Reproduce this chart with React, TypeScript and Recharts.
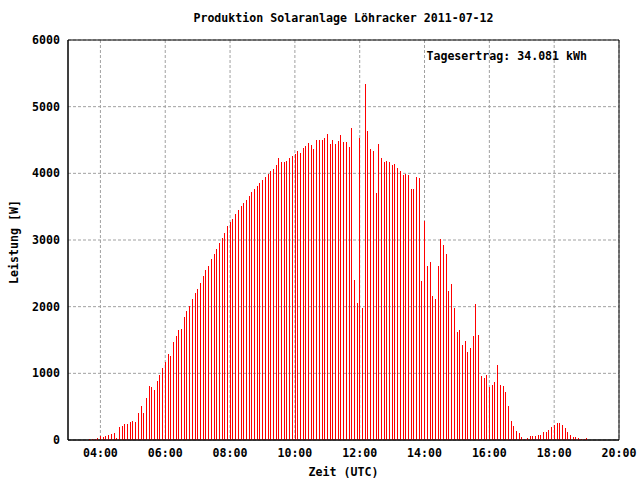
import React from 'react';
import { Bar, CartesianGrid, ComposedChart, ReferenceArea, XAxis, YAxis } from 'recharts';

// 5-minute samples, 03:40 .. 19:00 UTC
const startMinute = 220;
const stepMinutes = 5;

const power = [
  15, 15, 15, 35, 60, 50, 65, 80, 95, 105, 30, 195, 210, 240, 240, 270, 285, 270, 405, 510, 405, 630, 810, 795,
  750, 885, 975, 1080, 1170, 1290, 1260, 1470, 1560, 1650, 1665, 1845,
  1935, 2010, 2115, 2205, 2265, 2355, 2460, 2550, 2610, 2715, 2790, 2865, 2955, 3030, 3105, 3210, 3270, 3315,
  3390, 3450, 3510, 3555, 3600, 3660, 3720, 3765, 3810, 3855, 3900, 3945, 3990, 4035, 4065, 4125, 4230,
  4175, 4175, 4190, 4235, 4265, 4295, 4340, 4310, 4385, 4415, 4460, 4430, 4370, 4505, 4505, 4505, 4535, 4595,
  4445, 4505, 4445, 4490, 4580, 4475, 4475, 4400, 4685, 2405, 2060, 4535, 1985, 5345, 4630, 4365, 4335,
  3710, 4445, 4235, 4175, 4190, 4175, 4130, 4145, 4085, 4040, 3980, 3995, 3980, 3770, 3770, 3950, 3935, 2390,
  3290, 2615, 2675, 2165, 2120, 2615, 3020, 2930, 2795, 2240, 2345, 1985, 1625, 1655, 1430, 1490, 1325,
  1380, 1560, 2040, 1575, 960, 930, 975, 795, 825, 870, 1125, 825, 810, 720, 510, 285, 210, 135, 105, 45,
  15, 30, 60, 60, 60, 75, 75, 120, 120, 150, 195, 225, 255, 255, 225, 180, 120, 75, 45, 45, 30, 15, 15, 30,
];

const xTicks = [240, 360, 480, 600, 720, 840, 960, 1080, 1200];
const yTicks = [0, 1000, 2000, 3000, 4000, 5000, 6000];

const title = 'Produktion Solaranlage Löhracker 2011-07-12';
const dailyYield = 'Tagesertrag: 34.081 kWh';

const data = power.map((w, i) => ({ t: startMinute + i * stepMinutes, w }));

const font = {
  fontFamily: "'DejaVu Sans Mono', monospace",
  fontWeight: 'bold' as const,
  fontSize: 11.6,
  fill: '#000',
};

const hhmm = (m: number) =>
  `${String(Math.floor(m / 60)).padStart(2, '0')}:${String(m % 60).padStart(2, '0')}`;

export default function App() {
  return (
    <div style={{ position: 'absolute', left: 0, top: 0, width: 640, height: 480, background: '#fff' }}>
      <ComposedChart width={640} height={480} data={data} margin={{ top: 40, right: 21, bottom: 10, left: 8 }}>
        <CartesianGrid stroke="#a0a0a0" strokeDasharray="3 2" horizontalValues={yTicks} verticalValues={xTicks} />
        <XAxis
          dataKey="t"
          type="number"
          domain={[180, 1200]}
          ticks={xTicks}
          tickFormatter={hhmm}
          height={30}
          tickLine={false}
          tickMargin={3}
          axisLine={{ stroke: '#000', strokeWidth: 1 }}
          tick={font}
          allowDataOverflow
        />
        <YAxis
          type="number"
          domain={[0, 6000]}
          ticks={yTicks}
          width={60}
          tickLine={false}
          tickMargin={2}
          axisLine={{ stroke: '#000', strokeWidth: 1 }}
          tick={font}
          allowDataOverflow
        />
        <ReferenceArea x1={180} x2={1200} y1={0} y2={6000} fill="none" stroke="#000" strokeWidth={1} ifOverflow="visible" />
        <Bar dataKey="w" fill="#ff0000" barSize={1} isAnimationActive={false} shapeRendering="crispEdges" />
      </ComposedChart>
      <svg width={640} height={480} style={{ position: 'absolute', left: 0, top: 0, pointerEvents: 'none' }}>
        <text x={343.5} y={22} textAnchor="middle" {...font}>
          {title}
        </text>
        <text x={587} y={60} textAnchor="end" {...font}>
          {dailyYield}
        </text>
        <text x={343.5} y={476} textAnchor="middle" {...font}>
          Zeit (UTC)
        </text>
        <text x={18} y={242} textAnchor="middle" transform="rotate(-90 18 242)" {...font}>
          Leistung [W]
        </text>
      </svg>
    </div>
  );
}
